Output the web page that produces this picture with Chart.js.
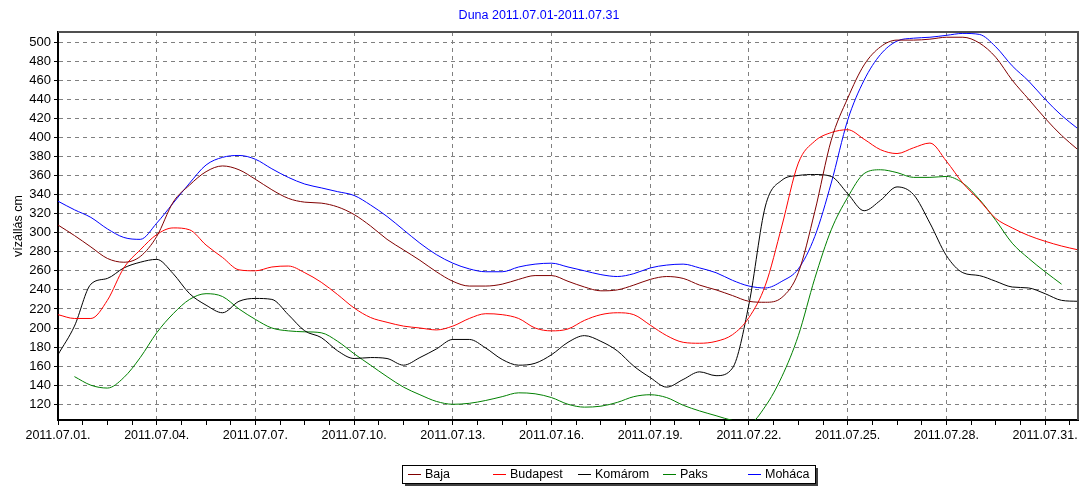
<!DOCTYPE html>
<html>
<head>
<meta charset="utf-8">
<script src="https://cdn.jsdelivr.net/npm/chart.js@4/dist/chart.umd.min.js"></script>
<style>
  html, body { margin: 0; padding: 0; background: #fff; }
</style>
</head>
<body>
<canvas id="dunaChart" width="1081" height="487"></canvas>
<script>
// days since 2011.07.01 00:00, half-day steps
const days = [0, 0.5, 1, 1.5, 2, 2.5, 3, 3.5, 4, 4.5, 5, 5.5, 6, 6.5, 7, 7.5, 8, 8.5, 9, 9.5,
    10, 10.5, 11, 11.5, 12, 12.5, 13, 13.5, 14, 14.5, 15, 15.5, 16, 16.5, 17, 17.5, 18, 18.5, 19, 19.5,
    20, 20.5, 21, 21.5, 22, 22.5, 23, 23.5, 24, 24.5, 25, 25.5, 26, 26.5, 27, 27.5, 28, 28.5, 29, 29.5,
    30, 30.5, 31];

const baja = [308, 297, 285, 273, 269, 275, 296, 332, 350, 364,
    370, 366, 356, 345, 336, 332, 331, 327, 319, 307,
    293, 282, 271, 259, 249, 244, 244, 246, 251, 255,
    255, 249, 243, 239, 240, 245, 251, 254, 252, 245,
    240, 234, 228, 227, 232, 258, 322, 397, 441, 476,
    495, 502, 502, 503, 505, 505, 499, 484, 460, 440,
    420, 402, 387];

const budapest = [214, 210, 210, 229, 263, 282, 298, 305, 303, 287,
    274, 261, 260, 264, 265, 258, 248, 235, 221, 211,
    206, 202, 200, 198, 202, 210, 215, 214, 210, 200,
    197, 199, 208, 214, 216, 214, 203, 192, 185, 184,
    186, 193, 211, 245, 307, 373, 396, 405, 408, 398,
    387, 383, 389, 394, 375, 352, 334, 315, 305, 297,
    291, 286, 282];

const komarom = [172, 202, 246, 252, 263, 269, 272, 257, 236, 224,
    216, 228, 231, 230, 214, 197, 190, 176, 168, 169,
    168, 161, 169, 178, 188, 188, 179, 167, 161, 163,
    172, 185, 192, 186, 176, 160, 148, 138, 146, 154,
    150, 158, 225, 328, 355, 360, 361, 359, 341, 323,
    334, 348, 340, 310, 276, 258, 255, 249, 243, 242,
    236, 229, 228];

const paks = [null, 149, 140, 137, 148, 169, 195, 215, 230, 236,
    233, 220, 209, 200, 197, 196, 195, 186, 173, 161,
    149, 138, 130, 123, 120, 121, 124, 128, 132, 131,
    127, 120, 117, 118, 122, 128, 130, 127, 119, 113,
    108, 103, 100, 118, 149, 192, 252, 303, 337, 362,
    366, 363, 358, 358, 359, 352, 335, 313, 289, 273,
    259, 246, null];

const mohacs = [333, 324, 316, 304, 295, 293, 310, 331, 352, 371,
    379, 381, 377, 367, 358, 351, 347, 343, 339, 329,
    317, 303, 289, 277, 268, 262, 259, 259, 264, 267,
    268, 264, 260, 256, 254, 257, 263, 266, 267, 263,
    258, 250, 244, 242, 249, 262, 296, 352, 418, 460,
    487, 501, 504, 505, 507, 509, 508, 495, 475, 459,
    440, 423, 409];

const seriesNames = ['Baja', 'Budapest', 'Komárom', 'Paks', 'Moháca'];
const seriesColors = ['#800000', '#ff0000', '#000000', '#008000', '#0000ff'];

const xTickDays = [0, 3, 6, 9, 12, 15, 18, 21, 24, 27, 30];
const xTickLabels = ['2011.07.01.', '2011.07.04.', '2011.07.07.', '2011.07.10.', '2011.07.13.', '2011.07.16.',
    '2011.07.19.', '2011.07.22.', '2011.07.25.', '2011.07.28.', '2011.07.31.'];
const yTicks = [120, 140, 160, 180, 200, 220, 240, 260, 280, 300, 320, 340, 360, 380, 400, 420, 440, 460, 480, 500];

const chartTitle = 'Duna 2011.07.01-2011.07.31';
const yTitle = 'vízállás cm';
const FONT = '"Liberation Sans", Arial, sans-serif';

const toPoints = vals => vals.map((v, i) => ({ x: days[i], y: v }));
const allSeries = [baja, budapest, komarom, paks, mohacs];

// frame (top/right) + boxed legend like the original
const framePlugin = {
    id: 'frame',
    afterDraw(chart) {
        const { ctx, chartArea: a } = chart;
        ctx.save();
        ctx.strokeStyle = '#505050';
        ctx.lineWidth = 2;
        ctx.beginPath();
        ctx.moveTo(a.left, a.top);
        ctx.lineTo(a.right, a.top);
        ctx.lineTo(a.right, a.bottom);
        ctx.stroke();

        // legend box with shadow
        const bx = 402, by = 465, bw = 413, bh = 18;
        ctx.fillStyle = '#404040';
        ctx.fillRect(bx + 3, by + 3, bw, bh);
        ctx.fillStyle = '#ffffff';
        ctx.fillRect(bx, by, bw, bh);
        ctx.strokeStyle = '#000000';
        ctx.lineWidth = 1;
        ctx.strokeRect(bx + 0.5, by + 0.5, bw, bh);

        ctx.font = '12.5px ' + FONT;
        ctx.textBaseline = 'middle';
        ctx.textAlign = 'left';
        chart.data.datasets.forEach((ds, i) => {
            const lx = 408 + i * 85;
            const ly = by + bh / 2 + 0.5;
            ctx.strokeStyle = ds.borderColor;
            ctx.beginPath();
            ctx.moveTo(lx, ly);
            ctx.lineTo(lx + 13, ly);
            ctx.stroke();
            ctx.fillStyle = '#000000';
            ctx.fillText(ds.label, lx + 17, ly);
        });
        ctx.restore();
    }
};

new Chart(document.getElementById('dunaChart').getContext('2d'), {
    type: 'line',
    data: {
        datasets: allSeries.map((vals, i) => ({
            label: seriesNames[i],
            data: toPoints(vals),
            borderColor: seriesColors[i],
            backgroundColor: seriesColors[i],
            borderWidth: 1,
            pointRadius: 0,
            cubicInterpolationMode: 'monotone',
            fill: false
        }))
    },
    options: {
        responsive: false,
        animation: false,
        devicePixelRatio: 1,
        layout: { padding: { left: 0, right: 3, top: 0, bottom: 0 } },
        plugins: {
            legend: { display: false },
            tooltip: { enabled: false },
            title: {
                display: true,
                text: chartTitle,
                color: '#0000ff',
                font: { family: FONT, size: 12.5, weight: 'normal' },
                padding: { top: 8, bottom: 9 }
            }
        },
        scales: {
            x: {
                type: 'linear',
                min: 0,
                max: 31,
                afterBuildTicks: scale => {
                    const t = [];
                    for (let i = 0; i * 0.75 <= 31; i++) t.push({ value: i * 0.75 });
                    scale.ticks = t;
                },
                afterFit: scale => { scale.height = 67; },
                ticks: {
                    autoSkip: false,
                    maxRotation: 0,
                    minRotation: 0,
                    padding: 3,
                    color: '#000',
                    font: { family: FONT, size: 12.5 },
                    callback: value => {
                        const k = xTickDays.indexOf(value);
                        return k >= 0 ? xTickLabels[k] : '';
                    }
                },
                grid: {
                    color: c => (c.tick && c.tick.value % 3 === 0 && c.tick.value !== 0) ? '#808080' : 'rgba(0,0,0,0)',
                    tickColor: '#000',
                    tickLength: 5,
                    lineWidth: 1
                },
                border: { display: true, color: '#000', width: 2, dash: [4, 4] }
            },
            y: {
                min: 103.5,
                max: 510.5,
                afterBuildTicks: scale => { scale.ticks = yTicks.map(v => ({ value: v })); },
                afterFit: scale => { scale.width = 58; },
                ticks: {
                    padding: 3,
                    color: '#000',
                    font: { family: FONT, size: 13 }
                },
                grid: {
                    color: '#808080',
                    tickColor: '#000',
                    tickLength: 4,
                    lineWidth: 1
                },
                border: { display: true, color: '#000', width: 2, dash: [4, 4] },
                title: {
                    display: true,
                    text: yTitle,
                    color: '#000',
                    font: { family: FONT, size: 12.5 },
                    padding: { top: 11, bottom: 0 }
                }
            }
        }
    },
    plugins: [framePlugin]
});
</script>
</body>
</html>
